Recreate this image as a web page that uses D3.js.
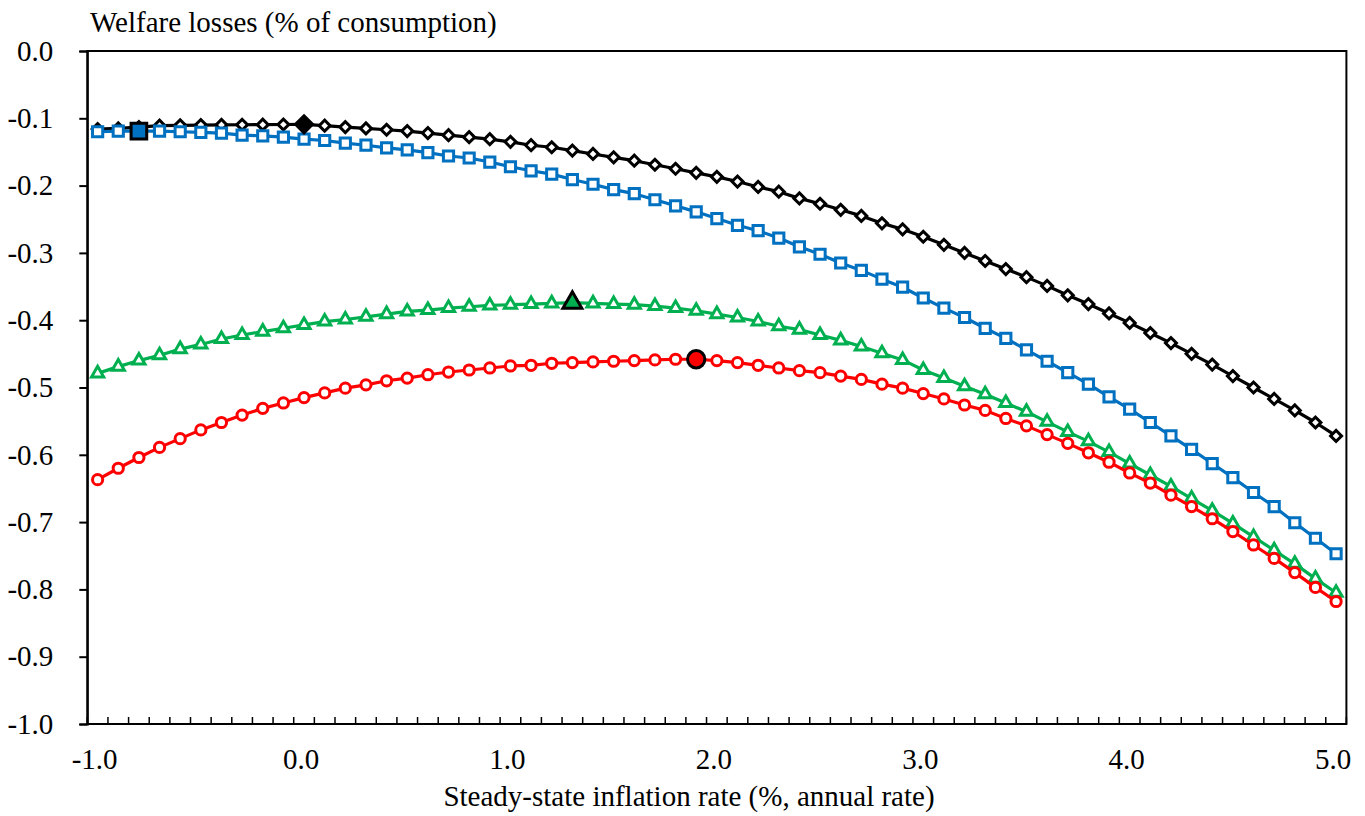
<!DOCTYPE html>
<html><head><meta charset="utf-8">
<script src="https://cdn.jsdelivr.net/npm/d3@7"></script>
</head><body style="margin:0;background:#fff"><svg id="c" width="1365" height="816"></svg>
<script>
const categories = d3.range(61).map(i => ((i - 10) / 10).toFixed(1));
const tickLabels = ["-1.0","0.0","1.0","2.0","3.0","4.0","5.0"];
const yTicks = [0,-0.1,-0.2,-0.3,-0.4,-0.5,-0.6,-0.7,-0.8,-0.9,-1.0];

const blackVals = [-0.116,-0.115,-0.113,-0.111,-0.1105,-0.110,-0.1098,-0.1096,-0.1094,-0.1092,-0.1090,
 -0.111,-0.113,-0.115,-0.117,-0.119,-0.122,-0.125,-0.128,-0.131,-0.135,
 -0.140,-0.143,-0.148,-0.153,-0.158,-0.163,-0.169,-0.175,-0.181,-0.187,
 -0.194,-0.202,-0.209,-0.219,-0.227,-0.236,-0.245,-0.256,-0.265,-0.276,
 -0.288,-0.300,-0.312,-0.324,-0.336,-0.349,-0.363,-0.376,-0.390,-0.404,
 -0.419,-0.434,-0.450,-0.466,-0.483,-0.500,-0.517,-0.534,-0.552,-0.572];
const blueVals = [-0.120,-0.119,-0.119,-0.119,-0.120,-0.121,-0.122,-0.125,-0.126,-0.128,-0.131,
 -0.133,-0.137,-0.140,-0.144,-0.147,-0.151,-0.156,-0.159,-0.165,-0.172,
 -0.178,-0.183,-0.191,-0.198,-0.206,-0.212,-0.221,-0.230,-0.239,-0.249,
 -0.259,-0.267,-0.278,-0.291,-0.302,-0.315,-0.326,-0.339,-0.351,-0.367,
 -0.382,-0.396,-0.412,-0.427,-0.444,-0.461,-0.478,-0.495,-0.514,-0.532,
 -0.552,-0.572,-0.592,-0.613,-0.634,-0.656,-0.677,-0.701,-0.724,-0.747];
const greenVals = [-0.479,-0.469,-0.460,-0.452,-0.443,-0.436,-0.428,-0.422,-0.417,-0.412,-0.407,
 -0.402,-0.399,-0.395,-0.391,-0.387,-0.385,-0.382,-0.380,-0.378,-0.377,
 -0.376,-0.375,-0.374,-0.375,-0.376,-0.377,-0.379,-0.382,-0.386,-0.391,
 -0.396,-0.402,-0.409,-0.414,-0.422,-0.430,-0.439,-0.449,-0.459,-0.474,
 -0.486,-0.498,-0.510,-0.523,-0.536,-0.551,-0.566,-0.580,-0.596,-0.613,
 -0.630,-0.647,-0.665,-0.683,-0.702,-0.722,-0.742,-0.762,-0.784,-0.805];
const redVals = [-0.637,-0.620,-0.604,-0.589,-0.576,-0.563,-0.552,-0.541,-0.531,-0.523,-0.515,
 -0.508,-0.501,-0.496,-0.490,-0.486,-0.481,-0.477,-0.474,-0.471,-0.468,
 -0.467,-0.464,-0.463,-0.462,-0.461,-0.460,-0.459,-0.458,-0.458,-0.460,
 -0.463,-0.467,-0.471,-0.475,-0.478,-0.483,-0.488,-0.495,-0.501,-0.509,
 -0.517,-0.526,-0.534,-0.546,-0.557,-0.570,-0.583,-0.597,-0.611,-0.627,
 -0.642,-0.660,-0.677,-0.695,-0.714,-0.734,-0.754,-0.775,-0.797,-0.818];

const series = [
 {name:"black", vals:blackVals, color:"#000000", shape:"diamond", opt:"0.0"},
 {name:"blue", vals:blueVals, color:"#0070C0", shape:"square", opt:"-0.8"},
 {name:"green", vals:greenVals, color:"#00B050", shape:"triangle", opt:"1.3"},
 {name:"red", vals:redVals, color:"#FF0000", shape:"circle", opt:"1.9"}
];

const FONT = "Liberation Serif";
const FS = 29;
const L = 87.3, R = 1346.4, T = 51, B = 724;
const svg = d3.select("#c");
const x = d3.scaleBand().domain(categories).range([L, R]).padding(0);
const y = d3.scaleLinear().domain([-1, 0]).range([B, T]);
const cx = c => x(c) + x.bandwidth() / 2;

svg.append("rect").attr("x", L).attr("y", T).attr("width", R - L).attr("height", B - T)
  .attr("fill", "none").attr("stroke", "#000").attr("stroke-width", 2);

const yAxis = svg.append("g").attr("transform", `translate(${L},0)`)
  .call(d3.axisLeft(y).tickValues(yTicks).tickSize(8).tickPadding(26)
    .tickFormat(d => d.toFixed(1).replace("\u2212", "-")));
yAxis.attr("font-family", FONT).attr("font-size", FS);
yAxis.select(".domain").attr("stroke-width", 2);
yAxis.selectAll(".tick line").attr("stroke-width", 2);
yAxis.selectAll("text").attr("fill", "#000");

const bounds = categories.map(c => x(c)).concat([R]);
svg.append("g").selectAll("line").data(bounds).join("line")
  .attr("x1", d => d).attr("x2", d => d).attr("y1", B).attr("y2", B - 7)
  .attr("stroke", "#000").attr("stroke-width", 1.5);
svg.append("g").selectAll("text").data(tickLabels).join("text")
  .attr("x", d => cx(d) - 3).attr("y", 769).attr("text-anchor", "middle")
  .attr("font-family", FONT).attr("font-size", FS).text(d => d);

svg.append("text").attr("x", 90).attr("y", 32).attr("font-family", FONT).attr("font-size", FS)
  .text("Welfare losses (% of consumption)");
svg.append("text").attr("x", 689).attr("y", 806).attr("text-anchor", "middle")
  .attr("font-family", FONT).attr("font-size", FS)
  .text("Steady-state inflation rate (%, annual rate)");

function symPath(shape, big) {
  if (shape === "diamond") return d3.symbol().type(d3.symbolSquare).size(big ? 145 : 60)();
  if (shape === "square") return d3.symbol().type(d3.symbolSquare).size(big ? 245 : 104)();
  if (shape === "triangle") return d3.symbol().type(d3.symbolTriangle).size(big ? 155 : 64)();
  return d3.symbol().type(d3.symbolCircle).size(big ? 235 : 82)();
}

const line = d3.line().x((d, i) => cx(categories[i])).y(d => y(d));
series.forEach(s => {
  const g = svg.append("g");
  g.append("path").datum(s.vals).attr("d", line).attr("fill", "none")
    .attr("stroke", s.color).attr("stroke-width", 3.2).attr("stroke-linejoin", "round");
  const p = symPath(s.shape, false);
  g.selectAll("path.m").data(s.vals).join("path").attr("class", "m")
    .attr("d", p)
    .attr("transform", (d, i) => `translate(${cx(categories[i])},${y(d)})` + (s.shape === "diamond" ? " rotate(45)" : ""))
    .attr("fill", "#fff").attr("stroke", s.color).attr("stroke-width", 3);
});
series.forEach(s => {
  const i = categories.indexOf(s.opt);
  svg.append("path").attr("d", symPath(s.shape, true))
    .attr("transform", `translate(${cx(s.opt)},${y(s.vals[i])})` + (s.shape === "diamond" ? " rotate(45)" : ""))
    .attr("fill", s.color).attr("stroke", "#000").attr("stroke-width", 3);
});
</script></body></html>
